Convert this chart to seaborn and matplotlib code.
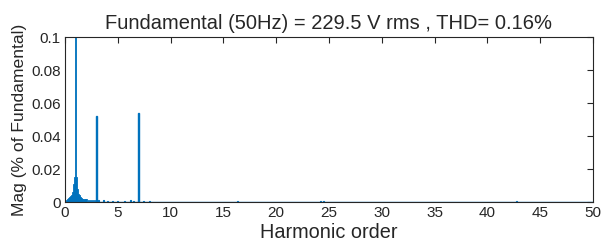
import matplotlib
matplotlib.use('Agg')
import matplotlib.pyplot as plt
import seaborn as sns

# Harmonic spectrum (order, magnitude in % of fundamental)
SKIRT_ORDERS = [0.1, 0.2, 0.3, 0.4, 0.5, 0.6, 0.7, 0.8, 0.9, 1.0,
                1.1, 1.2, 1.3, 1.4, 1.5, 1.6, 1.7, 1.8, 1.9, 2.0,
                2.2, 2.4, 2.6, 2.8]
SKIRT_MAGS = [0.0015, 0.002, 0.0025, 0.003, 0.0035, 0.004, 0.006, 0.011, 0.015, 100.0,
              0.015, 0.008, 0.005, 0.004, 0.003, 0.0025, 0.002, 0.002, 0.0018, 0.0016,
              0.0015, 0.0014, 0.0013, 0.0012]
PEAK_ORDERS = [3.0, 7.0]
PEAK_MAGS = [0.052, 0.054]
MINOR_ORDERS = [3.2, 3.6, 4.0, 4.5, 5.0, 5.6, 6.2, 6.5, 7.4, 8.0, 16.3, 24.2, 24.5, 42.8]
MINOR_MAGS = [0.001, 0.001, 0.0008, 0.0008, 0.0007, 0.0009, 0.001, 0.0009,
              0.0008, 0.0007, 0.0005, 0.0006, 0.0005, 0.0004]

X_TICKS = list(range(0, 55, 5))
Y_TICKS = [0, 0.02, 0.04, 0.06, 0.08, 0.1]
Y_TICK_LABELS = ['0', '0.02', '0.04', '0.06', '0.08', '0.1']

TITLE = 'Fundamental (50Hz) = 229.5 V rms , THD= 0.16%'
BLUE = '#0072BD'

sns.set_style('white')
plt.rcParams['font.family'] = ['Liberation Sans', 'DejaVu Sans']

fig = plt.figure(figsize=(6.02, 2.44), dpi=100)
ax = fig.add_axes([0.108, 0.172, 0.877, 0.676])

ax.bar(SKIRT_ORDERS, SKIRT_MAGS, width=0.1, color=BLUE, edgecolor=BLUE, linewidth=0.6)
ax.bar(PEAK_ORDERS, PEAK_MAGS, width=0.1, color=BLUE, edgecolor=BLUE, linewidth=1.0)
ax.bar(MINOR_ORDERS, MINOR_MAGS, width=0.1, color=BLUE, edgecolor=BLUE, linewidth=0.8)
ax.axhline(0.0002, color=BLUE, linewidth=1.0)

ax.set_xlim(0, 50)
ax.set_ylim(0, 0.1)
ax.set_xticks(X_TICKS)
ax.set_yticks(Y_TICKS)
ax.set_yticklabels(Y_TICK_LABELS)
ax.tick_params(direction='in', top=True, right=True, length=4, width=0.8,
               labelsize=11, colors='#262626', pad=3)
for sp in ax.spines.values():
    sp.set_color('#262626')
    sp.set_linewidth(0.8)
    sp.set_visible(True)

ax.set_title(TITLE, fontsize=14.5, pad=6)
ax.set_xlabel('Harmonic order', fontsize=14.3, labelpad=2)
ax.set_ylabel('Mag (% of Fundamental)', fontsize=12.6, labelpad=3)

fig.savefig('out.png', dpi=100)
